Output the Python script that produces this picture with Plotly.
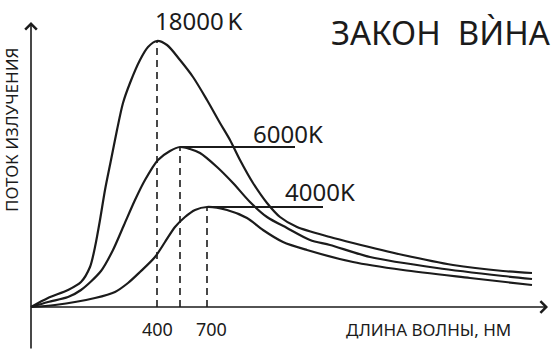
import plotly.graph_objects as go

# ---- data (schematic units) ----
x_18000 = [0, 17, 37, 50, 59, 64, 69, 74, 80, 86, 92, 99, 109, 117, 126, 136, 149, 162, 176, 189, 199,
           209, 222, 236, 249, 266, 299, 322, 372, 422, 472, 501]
y_18000 = [0, 9, 17, 25, 40, 60, 87, 117, 147, 177, 204, 224, 247, 260, 266, 262, 247, 230, 207, 184, 167,
           147, 124, 104, 90, 80, 70, 64, 52, 42, 36, 34]

x_6000 = [0, 17, 37, 50, 70, 82, 93, 104, 114, 127, 139, 149, 159, 169, 186, 202, 219, 236, 256, 279, 299,
          339, 406, 472, 501]
y_6000 = [0, 5, 10, 17, 36, 57, 82, 107, 127, 147, 156, 160, 158, 154, 140, 124, 105, 90, 79, 67, 62,
          50, 39, 31, 28]

x_4000 = [0, 24, 64, 84, 97, 109, 124, 134, 144, 154, 164, 176, 196, 216, 232, 252, 276, 322, 372, 439, 501]
y_4000 = [0, 2, 9, 15, 24, 35, 50, 65, 80, 90, 97, 100, 97, 89, 77, 65, 57, 45, 37, 29, 22]

series_names = ["18000K", "6000K", "4000K"]
tick_labels = ["400", "700"]
title_text = "ЗАКОН\u00a0\u00a0ВЍНА"
x_title = "ДЛИНА ВОЛНЫ, НМ"
y_title = "ПОТОК ИЗЛУЧЕНИЯ"

INK = "#1b1b1b"
FONT = "Noto Sans"

fig = go.Figure()

curves = [(x_18000, y_18000), (x_6000, y_6000), (x_4000, y_4000)]
peaks = []
for (xs, ys), name in zip(curves, series_names):
    fig.add_trace(go.Scatter(x=xs, y=ys, mode="lines", name=name,
                             line=dict(color=INK, width=2.2, shape="spline", smoothing=0.8),
                             hoverinfo="skip", showlegend=False))
    i = ys.index(max(ys))
    peaks.append((xs[i], ys[i]))

# dashed drops from peaks
for px, py in peaks:
    fig.add_shape(type="line", x0=px, y0=0, x1=px, y1=py,
                  line=dict(color=INK, width=1.6, dash="7px,5px"))

# label leader lines for 6000K and 4000K
fig.add_shape(type="line", x0=peaks[1][0], y0=peaks[1][1], x1=264, y1=peaks[1][1],
              line=dict(color=INK, width=1.8))
fig.add_shape(type="line", x0=peaks[2][0], y0=peaks[2][1], x1=292, y1=peaks[2][1],
              line=dict(color=INK, width=1.8))

# axes with arrows
fig.add_annotation(x=517, y=0, ax=0, ay=0, xref="x", yref="y", axref="x", ayref="y",
                   showarrow=True, arrowhead=4, arrowsize=1.4, arrowwidth=1.6, arrowcolor=INK, text="")
fig.add_annotation(x=0, y=285, ax=0, ay=-43, xref="x", yref="y", axref="x", ayref="y",
                   showarrow=True, arrowhead=4, arrowsize=1.4, arrowwidth=1.6, arrowcolor=INK, text="")

# texts
fig.add_annotation(x=168, y=287, text="18000\u2009K", showarrow=False,
                   font=dict(family=FONT, size=24, color=INK))
fig.add_annotation(x=257, y=174, text=series_names[1], showarrow=False,
                   font=dict(family=FONT, size=24, color=INK))
fig.add_annotation(x=289, y=116, text=series_names[2], showarrow=False,
                   font=dict(family=FONT, size=24, color=INK))
fig.add_annotation(x=410, y=275, text=title_text, showarrow=False,
                   font=dict(family=FONT, size=33, color=INK))
for (px, py), lab in zip([peaks[0], peaks[2]], tick_labels):
    fig.add_annotation(x=px + (0 if lab == "400" else 4), y=-22, text=lab, showarrow=False,
                       font=dict(family=FONT, size=18, color=INK))
fig.add_annotation(x=397, y=-22, text=x_title, showarrow=False,
                   font=dict(family=FONT, size=17, color=INK))
fig.add_annotation(x=-20, y=177, text=y_title, showarrow=False, textangle=-90,
                   font=dict(family=FONT, size=17, color=INK))

fig.update_layout(
    width=553, height=355,
    margin=dict(l=0, r=0, t=0, b=0),
    paper_bgcolor="white", plot_bgcolor="white",
    xaxis=dict(range=[-31, 522], visible=False, fixedrange=True),
    yaxis=dict(range=[-48, 307], visible=False, fixedrange=True),
)

fig.write_html("out.html", config={"displayModeBar": False},
               post_script="document.body.style.margin='0';document.body.style.overflow='hidden';")
